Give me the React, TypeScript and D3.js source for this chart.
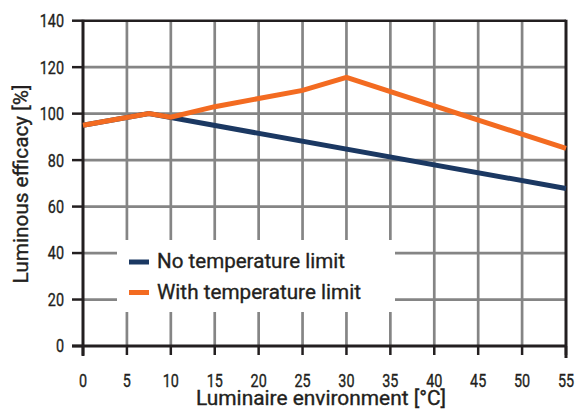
import React from "react";
import * as d3 from "d3";

const xTicks = [0, 5, 10, 15, 20, 25, 30, 35, 40, 45, 50, 55];
const yTicks = [0, 20, 40, 60, 80, 100, 120, 140];

const noLimitX = [0, 7.5, 55];
const noLimitY = [95, 100, 67.8];

const withLimitX = [0, 7.5, 10, 15, 20, 25, 30, 55];
const withLimitY = [95, 100, 98.5, 103, 106.5, 110, 115.6, 85];

const seriesNames = ["No temperature limit", "With temperature limit"];
const seriesColors = ["#1b3862", "#f36b21"];

const xTitle = "Luminaire environment [°C]";
const yTitle = "Luminous efficacy [%]";

const FONT = "Roboto, 'Liberation Sans', sans-serif";
const TEXT = "#231f20";

export default function App() {
  const W = 577, H = 414;
  const x = d3.scaleLinear().domain([0, 55]).range([83, 566]);
  const y = d3.scaleLinear().domain([0, 140]).range([346, 20.7]);
  const line = d3.line<[number, number]>().x(d => x(d[0])).y(d => y(d[1]));
  const blue = noLimitX.map((v, i) => [v, noLimitY[i]] as [number, number]);
  const orange = withLimitX.map((v, i) => [v, withLimitY[i]] as [number, number]);
  const grid = "#858585";
  const [x0, x1] = x.range();
  const [y0, y1] = y.range();

  return (
    <svg width={W} height={H} style={{ position: "absolute", left: 0, top: 0, background: "#fff" }}>
      <rect x={0} y={0} width={W} height={H} fill="#fff" />
      {/* grid */}
      {xTicks.filter(t => t > 0 && t < 55).map(t => (
        <line key={"gx" + t} x1={x(t)} x2={x(t)} y1={y1} y2={y0} stroke={grid} strokeWidth={2.7} />
      ))}
      {yTicks.filter(t => t > 0 && t < 140).map(t => (
        <line key={"gy" + t} x1={x0} x2={x1} y1={y(t)} y2={y(t)} stroke={grid} strokeWidth={2.7} />
      ))}
      {/* legend box */}
      <rect x={117} y={240} width={278} height={72} fill="#fff" />
      {/* frame */}
      <line x1={x0} x2={x1} y1={y1} y2={y1} stroke="#231f20" strokeWidth={2.5} />
      <line x1={x1} x2={x1} y1={y1 - 1} y2={358} stroke="#231f20" strokeWidth={3} />
      <line x1={x0} x2={x0} y1={y1 - 1} y2={356} stroke="#231f20" strokeWidth={3} />
      <line x1={72} x2={x1} y1={y0} y2={y0} stroke="#231f20" strokeWidth={3} />
      {yTicks.map(t => (
        <line key={"ty" + t} x1={72} x2={x0} y1={y(t)} y2={y(t)} stroke="#231f20" strokeWidth={2.5} />
      ))}
      {xTicks.map(t => (
        <line key={"tx" + t} x1={x(t)} x2={x(t)} y1={y0} y2={355} stroke="#231f20" strokeWidth={2.5} />
      ))}
      {/* series */}
      <path d={line(blue) || ""} fill="none" stroke={seriesColors[0]} strokeWidth={5} strokeLinejoin="miter" />
      <path d={line(orange) || ""} fill="none" stroke={seriesColors[1]} strokeWidth={5} strokeLinejoin="miter" />
      {/* tick labels */}
      <g fontFamily={FONT} fontSize={18} fill={TEXT} stroke={TEXT} strokeWidth={0.35}>
        {yTicks.map(t => (
          <text key={"ly" + t} transform={`translate(64,${y(t) + 6.4}) scale(0.8,1)`} textAnchor="end">{t}</text>
        ))}
        {xTicks.map(t => (
          <text key={"lx" + t} transform={`translate(${x(t)},386.8) scale(0.8,1)`} textAnchor="middle">{t}</text>
        ))}
      </g>
      <g fontFamily={FONT} fontSize={19.5} fill={TEXT} stroke={TEXT} strokeWidth={0.35}>
        <text x={321} y={405} textAnchor="middle" textLength={250} lengthAdjust="spacingAndGlyphs">{xTitle}</text>
        <text transform={`translate(28,184) rotate(-90)`} textAnchor="middle" textLength={199} lengthAdjust="spacingAndGlyphs">{yTitle}</text>
      </g>
      {/* legend */}
      {seriesNames.map((n, i) => (
        <g key={n}>
          <line x1={129} x2={149} y1={262 + i * 30.5} y2={262 + i * 30.5} stroke={seriesColors[i]} strokeWidth={5} />
          <text x={157} y={267.5 + i * 31.5} fontFamily={FONT} fontSize={21} fill={TEXT} stroke={TEXT} strokeWidth={0.35}
            textLength={i === 0 ? 188 : 204} lengthAdjust="spacingAndGlyphs">{n}</text>
        </g>
      ))}
    </svg>
  );
}
